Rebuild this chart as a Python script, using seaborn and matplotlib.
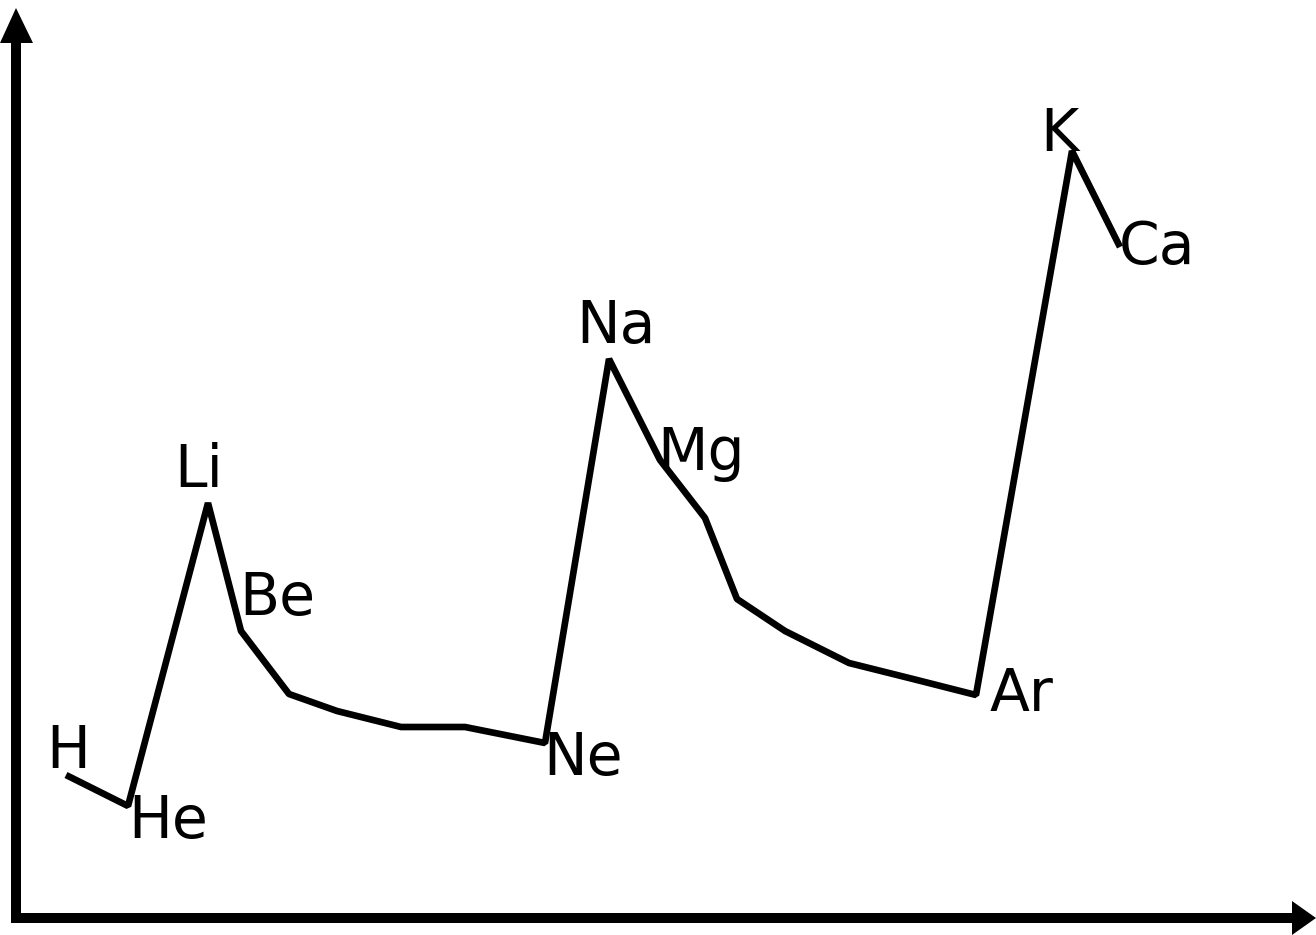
import matplotlib
matplotlib.use("Agg")
import matplotlib.pyplot as plt
from matplotlib.patches import Polygon
import seaborn as sns
import pandas as pd

# Elements in order, their horizontal position and relative atomic radius
elements = ["H", "He", "Li", "Be", "B", "C", "N", "O", "Ne",
            "Na", "Mg", "Al", "Si", "P", "S", "Cl", "Ar", "K", "Ca"]
position = [66, 128, 208, 241, 289, 337, 401, 465, 545,
            609, 660, 705, 737, 785, 849, 913, 976, 1072, 1120]
radius = [160, 129, 432, 304, 241, 224, 208, 208, 192,
          576, 475, 417, 336, 304, 272, 256, 240, 784, 688]

# Which elements get a label, and where the label sits relative to the point (pixels)
labelled = {"H": (-20, 7), "He": (0, -32), "Li": (-34, 16), "Be": (-2, 16),
            "Ne": (-2, -32), "Na": (-33, 16), "Mg": (-3, -10), "Ar": (14, -16),
            "K": (-32, 0), "Ca": (-1, -17)}

df = pd.DataFrame({"element": elements, "position": position, "radius": radius})

sns.set_theme(style="white")
plt.rcParams["font.family"] = ["DejaVu Sans"]

W, H = 1316, 935
fig = plt.figure(figsize=(W / 100, H / 100), dpi=100)
ax = fig.add_axes([0, 0, 1, 1])

sns.lineplot(data=df, x="position", y="radius", sort=False, color="black",
             linewidth=4.8, ax=ax, solid_joinstyle="bevel", solid_capstyle="butt")

for _, row in df.iterrows():
    if row["element"] in labelled:
        dx, dy = labelled[row["element"]]
        ax.annotate(row["element"], (row["position"], row["radius"]),
                    xytext=(dx * 0.72, dy * 0.72), textcoords="offset points",
                    fontsize=42, color="black", ha="left", va="baseline")

ax.set_xlim(0, W)
ax.set_ylim(0, H)
ax.set_axis_off()


# axis arrows (in pixel-like axes units: x from left, y from top)
def px(x, y):
    return (x / W, 1 - y / H)


ax.plot(*zip(px(16, 40), px(16, 923)), transform=ax.transAxes, color="black",
        lw=7.2, solid_capstyle="butt", clip_on=False)
ax.plot(*zip(px(11, 918), px(1296, 918)), transform=ax.transAxes, color="black",
        lw=7.2, solid_capstyle="butt", clip_on=False)
ax.add_patch(Polygon([px(16, 8), px(0, 43), px(33, 43)], closed=True,
                     transform=ax.transAxes, color="black", lw=0, clip_on=False))
ax.add_patch(Polygon([px(1316, 918), px(1292, 901), px(1292, 935)], closed=True,
                     transform=ax.transAxes, color="black", lw=0, clip_on=False))

fig.savefig("out.png", dpi=100)
